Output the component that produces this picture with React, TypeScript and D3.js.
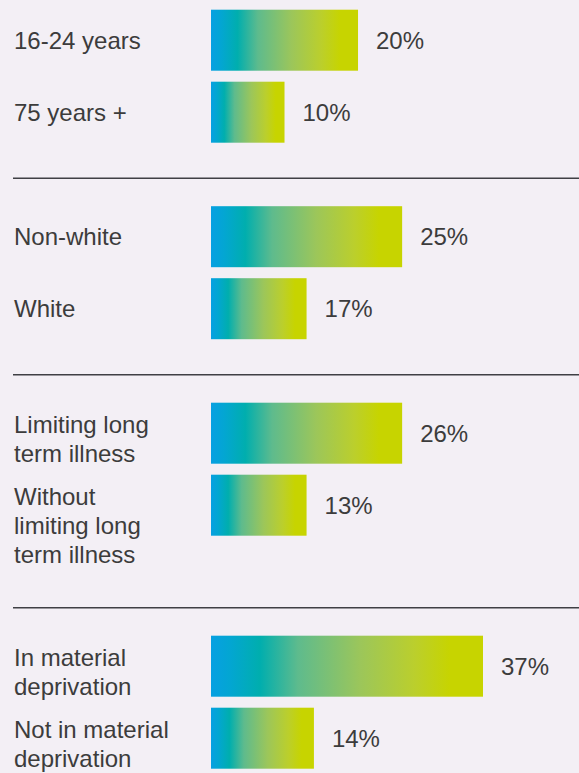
import { useEffect, useRef } from 'react';
import * as d3 from 'd3';

// one entry per bar, top to bottom
const labels: string[][] = [
  ['16-24 years'],
  ['75 years +'],
  ['Non-white'],
  ['White'],
  ['Limiting long', 'term illness'],
  ['Without', 'limiting long', 'term illness'],
  ['In material', 'deprivation'],
  ['Not in material', 'deprivation'],
];
const values = [20, 10, 25, 17, 26, 13, 37, 14];
// bar lengths as drawn in the original (not always equal to the printed value)
const barLengths = [20, 10, 26, 13, 26, 13, 37, 14];
const groups = [0, 0, 1, 1, 2, 2, 3, 3];

export default function App() {
  const svgRef = useRef<SVGSVGElement>(null);

  useEffect(() => {
    if (!svgRef.current) return;

    const width = 579;
    const height = 773;
    const barLeft = 211;
    const barH = 61;
    const stride = 72;
    const lineH = 29;
    const textColor = '#3c3c3c';
    const font = '"Liberation Sans", Arial, sans-serif';

    d3.select(svgRef.current).selectAll('*').remove();

    const svg = d3.select(svgRef.current)
      .attr('width', width)
      .attr('height', height);

    svg.append('rect')
      .attr('width', width)
      .attr('height', height)
      .attr('fill', '#f3eff5');

    const grad = svg.append('defs')
      .append('linearGradient')
      .attr('id', 'barGrad')
      .attr('x1', '0%').attr('x2', '100%')
      .attr('y1', '0%').attr('y2', '0%');
    [
      [0, '#07a0e2'],
      [0.07, '#03a6d2'],
      [0.18, '#00aeae'],
      [0.32, '#5ebb8d'],
      [0.55, '#9cc65a'],
      [0.75, '#bbcf2c'],
      [0.88, '#c7d400'],
      [1, '#c7d400'],
    ].forEach(([o, c]) => {
      grad.append('stop').attr('offset', o as number).attr('stop-color', c as string);
    });

    const x = d3.scaleLinear()
      .domain([0, d3.max(barLengths) as number])
      .range([0, 272]);

    // vertical layout, group by group
    const tops: number[] = [];
    const baselines: number[] = [];
    const dividers: number[] = [];
    let top = 9.7;
    const groupIds = Array.from(new Set(groups));
    groupIds.forEach((g, gi) => {
      const idx = groups.map((d, i) => (d === g ? i : -1)).filter(i => i >= 0);
      let bottom = 0;
      idx.forEach((i, k) => {
        const t = top + k * stride;
        tops[i] = t;
        const lines = labels[i].length;
        const base = lines === 1 ? t + barH / 2 + 8.5 : t + 30;
        baselines[i] = base;
        bottom = Math.max(bottom, t + barH + 35.5, base + (lines - 1) * lineH + 45);
      });
      if (gi < groupIds.length - 1) {
        dividers.push(bottom);
        top = bottom + 28;
      }
    });

    svg.selectAll('.divider')
      .data(dividers)
      .enter()
      .append('line')
      .attr('class', 'divider')
      .attr('x1', 13)
      .attr('x2', width)
      .attr('y1', d => d)
      .attr('y2', d => d)
      .attr('stroke', '#3f3f44')
      .attr('stroke-width', 1.5);

    svg.selectAll('.bar')
      .data(barLengths)
      .enter()
      .append('rect')
      .attr('class', 'bar')
      .attr('x', barLeft)
      .attr('y', (_, i) => tops[i])
      .attr('width', d => x(d))
      .attr('height', barH)
      .attr('fill', 'url(#barGrad)');

    svg.selectAll('.value')
      .data(values)
      .enter()
      .append('text')
      .attr('class', 'value')
      .attr('x', (_, i) => barLeft + x(barLengths[i]) + 18)
      .attr('y', (_, i) => tops[i] + barH / 2 + 8.5)
      .attr('fill', textColor)
      .style('font-family', font)
      .style('font-size', '24px')
      .text(d => `${d}%`);

    const lbl = svg.selectAll('.label')
      .data(labels)
      .enter()
      .append('text')
      .attr('class', 'label')
      .attr('x', 14)
      .attr('y', (_, i) => baselines[i])
      .attr('fill', textColor)
      .style('font-family', font)
      .style('font-size', '24px');

    lbl.selectAll('tspan')
      .data(d => d)
      .enter()
      .append('tspan')
      .attr('x', 14)
      .attr('dy', (_, k) => (k === 0 ? 0 : lineH))
      .text(d => d);
  }, []);

  return (
    <svg
      ref={svgRef}
      style={{ position: 'absolute', top: 0, left: 0, display: 'block' }}
    ></svg>
  );
}
